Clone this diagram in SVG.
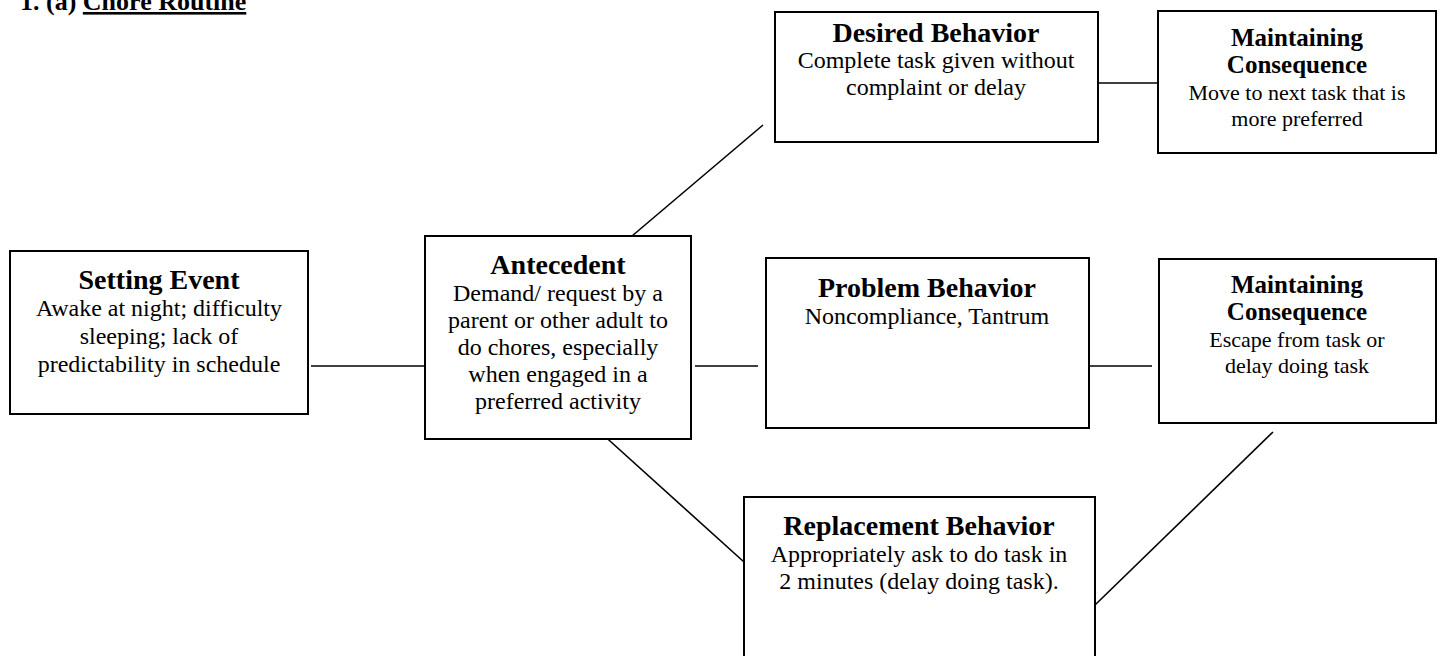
<svg xmlns="http://www.w3.org/2000/svg" width="1440" height="656" viewBox="0 0 1440 656">
<style>
.box{fill:#fff;stroke:#000;stroke-width:2}
.t{font-family:"Liberation Serif","Times New Roman",serif;font-weight:bold;font-size:28px;text-anchor:middle;fill:#000}
.tm{font-family:"Liberation Serif","Times New Roman",serif;font-weight:bold;font-size:25px;text-anchor:middle;fill:#000}
.b{font-family:"Liberation Serif","Times New Roman",serif;font-size:24px;text-anchor:middle;fill:#000}
.bm{font-family:"Liberation Serif","Times New Roman",serif;font-size:22px;text-anchor:middle;fill:#000}
.c line{stroke:#000;stroke-width:1.6}
</style>
<rect width="1440" height="656" fill="#fff"/>
<text id="title" x="20" y="10" font-family="Liberation Serif, serif" font-weight="bold" font-size="26">1. (a) <tspan text-decoration="underline">Chore Routine</tspan></text>
<g id="connectors" class="c">
<line x1="311" y1="366" x2="433" y2="366"/>
<line x1="695" y1="366" x2="758" y2="366"/>
<line x1="1079" y1="366" x2="1152" y2="366"/>
<line x1="1098" y1="83" x2="1158" y2="83"/>
<line x1="632" y1="236" x2="763" y2="125"/>
<line x1="600" y1="432" x2="744" y2="562"/>
<line x1="1095" y1="605" x2="1273" y2="432"/>
</g>
<g id="setting">
<rect class="box" x="10" y="251" width="298" height="163"/>
<text class="t" x="159" y="289">Setting Event</text>
<text class="b" x="159" y="316">Awake at night; difficulty</text>
<text class="b" x="159" y="344">sleeping; lack of</text>
<text class="b" x="159" y="372">predictability in schedule</text>
</g>
<g id="antecedent">
<rect class="box" x="425" y="236" width="266" height="203"/>
<text class="t" x="558" y="274">Antecedent</text>
<text class="b" x="558" y="301">Demand/ request by a</text>
<text class="b" x="558" y="328">parent or other adult to</text>
<text class="b" x="558" y="355">do chores, especially</text>
<text class="b" x="558" y="382">when engaged in a</text>
<text class="b" x="558" y="409">preferred activity</text>
</g>
<g id="desired">
<rect class="box" x="775" y="12" width="323" height="130"/>
<text class="t" x="936" y="42">Desired Behavior</text>
<text class="b" x="936" y="68">Complete task given without</text>
<text class="b" x="936" y="95">complaint or delay</text>
</g>
<g id="maint-top">
<rect class="box" x="1158" y="11" width="278" height="142"/>
<text class="tm" x="1297" y="46">Maintaining</text>
<text class="tm" x="1297" y="73">Consequence</text>
<text class="bm" x="1297" y="100">Move to next task that is</text>
<text class="bm" x="1297" y="126">more preferred</text>
</g>
<g id="problem">
<rect class="box" x="766" y="258" width="323" height="170"/>
<text class="t" x="927" y="297">Problem Behavior</text>
<text class="b" x="927" y="324">Noncompliance, Tantrum</text>
</g>
<g id="maint-bottom">
<rect class="box" x="1159" y="259" width="277" height="164"/>
<text class="tm" x="1297" y="293">Maintaining</text>
<text class="tm" x="1297" y="320">Consequence</text>
<text class="bm" x="1297" y="347">Escape from task or</text>
<text class="bm" x="1297" y="373">delay doing task</text>
</g>
<g id="replacement">
<rect class="box" x="744" y="497" width="351" height="170"/>
<text class="t" x="919" y="535">Replacement Behavior</text>
<text class="b" x="919" y="562">Appropriately ask to do task in</text>
<text class="b" x="919" y="589">2 minutes (delay doing task).</text>
</g>
</svg>
